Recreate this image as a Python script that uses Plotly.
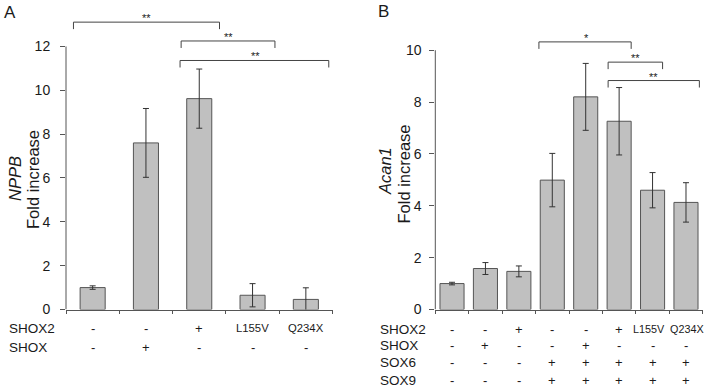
import plotly.graph_objects as go

# ---------------- data ----------------
cats_A = ["c1", "c2", "c3", "c4", "c5"]
nppb_mean = [1.0, 7.6, 9.62, 0.65, 0.46]
nppb_err = [0.08, 1.57, 1.35, 0.53, 0.53]
rowA_shox2 = ["-", "-", "+", "L155V", "Q234X"]
rowA_shox = ["-", "+", "-", "-", "-"]
rowA_labels = ["SHOX2", "SHOX"]

cats_B = ["d1", "d2", "d3", "d4", "d5", "d6", "d7", "d8"]
acan_mean = [1.0, 1.58, 1.47, 4.99, 8.2, 7.26, 4.6, 4.13]
acan_err = [0.05, 0.23, 0.21, 1.03, 1.29, 1.3, 0.68, 0.76]
rowB_shox2 = ["-", "-", "+", "-", "-", "+", "L155V", "Q234X"]
rowB_shox = ["-", "+", "-", "-", "+", "-", "-", "-"]
rowB_sox6 = ["-", "-", "-", "+", "+", "+", "+", "+"]
rowB_sox9 = ["-", "-", "-", "+", "+", "+", "+", "+"]
rowB_labels = ["SHOX2", "SHOX", "SOX6", "SOX9"]

ticks_A = [0, 2, 4, 6, 8, 10, 12]
ticks_B = [0, 2, 4, 6, 8, 10]

# significance comparisons: (x0, x1, bracket height, star text x, label) in axis units
sig_A = [(-0.36, 2.38, 13.11, 1.01, "**"),
         (1.66, 3.42, 12.25, 2.54, "**"),
         (1.64, 4.43, 11.36, 3.05, "**")]
sig_B = [(2.60, 5.36, 10.32, 4.01, "*"),
         (4.67, 6.30, 9.54, 5.49, "**"),
         (4.67, 7.40, 8.83, 6.04, "**")]

# ---------------- figure ----------------
W, H = 708, 390
FONT = "Liberation Sans, Arial, sans-serif"
TXT = "#1a1a1a"
AX = "#555555"

def px_x(p):
    return p / W

def px_y(p):
    return 1 - p / H

fig = go.Figure()

fig.add_trace(go.Bar(
    x=list(range(len(cats_A))), y=nppb_mean, width=0.47,
    marker=dict(color="#c0c0c0", line=dict(color="#555555", width=1)),
    error_y=dict(type="data", array=nppb_err, color="#333333", thickness=1, width=3),
    xaxis="x", yaxis="y", showlegend=False, hoverinfo="skip"))

fig.add_trace(go.Bar(
    x=list(range(len(cats_B))), y=acan_mean, width=0.72,
    marker=dict(color="#c0c0c0", line=dict(color="#555555", width=1)),
    error_y=dict(type="data", array=acan_err, color="#333333", thickness=1, width=3),
    xaxis="x2", yaxis="y2", showlegend=False, hoverinfo="skip"))

yb = px_y(309.5)
yt = px_y(14)
axcommon = dict(showgrid=False, zeroline=False, automargin=False)

fig.update_layout(
    template="none",
    width=W, height=H, margin=dict(l=0, r=0, t=0, b=0, pad=0), autosize=False,
    paper_bgcolor="white", plot_bgcolor="white",
    font=dict(family=FONT, color=TXT),
    xaxis=dict(domain=[px_x(66), px_x(332.5)], range=[-0.5, len(cats_A) - 0.5],
               showline=True, linecolor=AX, linewidth=1, ticks="outside",
               tickvals=[i - 0.5 for i in range(len(cats_A) + 1)], ticklen=3,
               tickcolor=AX, showticklabels=False, anchor="y", **axcommon),
    yaxis=dict(domain=[yb, yt], range=[0, (309.5 - 14) / 21.92], tickvals=ticks_A,
               ticks="outside", ticklen=5, tickcolor=AX, showline=False,
               tickfont=dict(size=14, color=TXT), ticklabelstandoff=7,
               anchor="x", **axcommon),
    xaxis2=dict(domain=[px_x(435.3), px_x(702.7)], range=[-0.5, len(cats_B) - 0.5],
                showline=True, linecolor=AX, linewidth=1, ticks="outside",
                tickvals=[i - 0.5 for i in range(len(cats_B) + 1)], ticklen=3,
                tickcolor=AX, showticklabels=False, anchor="y2", **axcommon),
    yaxis2=dict(domain=[yb, yt], range=[0, (309.5 - 14) / 25.93], tickvals=ticks_B,
                ticks="outside", ticklen=5, tickcolor=AX, showline=False,
                tickfont=dict(size=14, color=TXT), ticklabelstandoff=5,
                anchor="x2", **axcommon),
)

shapes = []
ann = []

# y axis lines (only up to the top tick)
shapes.append(dict(type="line", xref="x domain", yref="y", x0=0, x1=0, y0=0, y1=max(ticks_A),
                   line=dict(color=AX, width=1)))
shapes.append(dict(type="line", xref="x2 domain", yref="y2", x0=0, x1=0, y0=0, y1=max(ticks_B),
                   line=dict(color=AX, width=1)))

def brackets(sig, xr, yr, drop):
    for x0, x1, yh, xs, lab in sig:
        shapes.append(dict(type="path", xref=xr, yref=yr,
                           path=f"M {x0},{yh - drop} L {x0},{yh} L {x1},{yh} L {x1},{yh - drop}",
                           line=dict(color="#444444", width=1)))
        ann.append(dict(x=xs, y=yh, xref=xr, yref=yr, text=lab, showarrow=False,
                        yanchor="bottom", yshift=-4, font=dict(size=11, color=TXT)))

brackets(sig_A, "x", "y", 7 / 21.92)
brackets(sig_B, "x2", "y2", 7 / 25.93)

# rows under panel A
rowsA = [rowA_shox2, rowA_shox]
rowA_y = [328.3, 347.0]
for lab, vals, yp in zip(rowA_labels, rowsA, rowA_y):
    ann.append(dict(x=px_x(7), y=px_y(yp), xref="paper", yref="paper", text=lab,
                    showarrow=False, xanchor="left", yanchor="middle",
                    font=dict(size=13.5, color=TXT)))
    for i, v in enumerate(vals):
        ann.append(dict(x=i, y=px_y(yp), xref="x", yref="paper", text=v, showarrow=False,
                        xanchor="center", yanchor="middle",
                        font=dict(size=11.3 if len(v) > 1 else 13, color=TXT)))

rowsB = [rowB_shox2, rowB_shox, rowB_sox6, rowB_sox9]
rowB_y = [329.0, 345.5, 362.0, 380.5]
for lab, vals, yp in zip(rowB_labels, rowsB, rowB_y):
    ann.append(dict(x=px_x(378), y=px_y(yp), xref="paper", yref="paper", text=lab,
                    showarrow=False, xanchor="left", yanchor="middle",
                    font=dict(size=13.5, color=TXT)))
    for i, v in enumerate(vals):
        long = len(v) > 1
        shift = 0
        if long:
            shift = -3.5 if i == len(vals) - 2 else 1.5
        ann.append(dict(x=i, y=px_y(yp), xref="x2", yref="paper", text=v, showarrow=False,
                        xanchor="center", yanchor="middle", xshift=shift,
                        font=dict(size=10.8 if long else 13, color=TXT)))

# y axis titles
ann += [
    dict(x=px_x(15), y=px_y(179), xref="paper", yref="paper", text="<i>NPPB</i>",
         textangle=-90, showarrow=False, xanchor="center", yanchor="middle",
         font=dict(size=16.5, color=TXT)),
    dict(x=px_x(33), y=px_y(180), xref="paper", yref="paper", text="Fold increase",
         textangle=-90, showarrow=False, xanchor="center", yanchor="middle",
         font=dict(size=16.5, color=TXT)),
    dict(x=px_x(385), y=px_y(171), xref="paper", yref="paper", text="<i>Acan1</i>",
         textangle=-90, showarrow=False, xanchor="center", yanchor="middle",
         font=dict(size=16.5, color=TXT)),
    dict(x=px_x(403), y=px_y(174.5), xref="paper", yref="paper", text="Fold increase",
         textangle=-90, showarrow=False, xanchor="center", yanchor="middle",
         font=dict(size=16.5, color=TXT)),
    dict(x=px_x(10), y=px_y(12), xref="paper", yref="paper", text="A",
         showarrow=False, xanchor="center", yanchor="middle", font=dict(size=17, color=TXT)),
    dict(x=px_x(383.5), y=px_y(11), xref="paper", yref="paper", text="B",
         showarrow=False, xanchor="center", yanchor="middle", font=dict(size=17, color=TXT)),
]

fig.update_layout(shapes=shapes, annotations=ann)
fig.write_html("out.html", config={"displayModeBar": False},
               post_script="document.body.style.margin='0';document.body.style.padding='0';")
